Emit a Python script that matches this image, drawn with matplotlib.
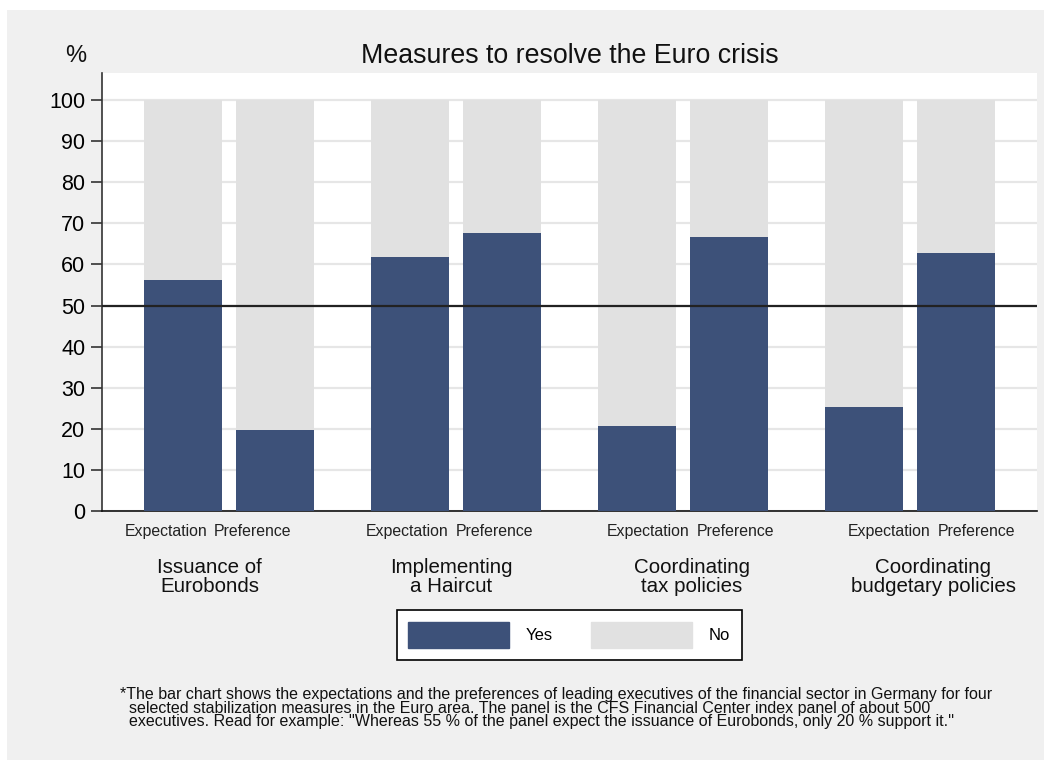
import numpy as np
import matplotlib
matplotlib.use("Agg")
import matplotlib.pyplot as plt
from matplotlib.patches import Rectangle, Patch

plt.rcParams['font.family'] = ['Liberation Sans', 'DejaVu Sans']

# data
groups = ["Issuance of\nEurobonds", "Implementing\na Haircut",
          "Coordinating\ntax policies", "Coordinating\nbudgetary policies"]
bar_labels = ["Expectation", "Preference"]
expectation_yes = [56.2, 61.7, 20.7, 25.3]
preference_yes = [19.7, 67.6, 66.7, 62.8]

navy = "#3d5179"
light = "#e1e1e1"
bg = "#f0f0f0"

fig = plt.figure(figsize=(10.51, 7.69), dpi=100)
fig.patch.set_facecolor("white")
fig.patches.append(Rectangle((7 / 1051, 1 - 760 / 769), 1037 / 1051, 750 / 769,
                             transform=fig.transFigure, facecolor=bg,
                             edgecolor="none", zorder=-5))

ax = fig.add_axes([102 / 1051, 1 - 511 / 769, 935 / 1051, 438 / 769])
ax.set_facecolor("white")

x = np.arange(len(groups))
off = 0.2026
w = 0.344
exp_yes = np.array(expectation_yes)
pref_yes = np.array(preference_yes)

ax.bar(x - off, exp_yes, w, color=navy, zorder=3)
ax.bar(x - off, 100 - exp_yes, w, bottom=exp_yes, color=light, zorder=3)
ax.bar(x + off, pref_yes, w, color=navy, zorder=3)
ax.bar(x + off, 100 - pref_yes, w, bottom=pref_yes, color=light, zorder=3)

ax.axhline(50, color="#222222", lw=1.6, zorder=4)

ax.set_xlim(-0.559, 3.559)
ax.set_ylim(0, 106.6)
ax.set_yticks(np.arange(0, 101, 10))
ax.tick_params(axis="y", labelsize=15.5, length=8, width=1.2, color="#333333", pad=4)
ax.set_xticks([])
ax.yaxis.grid(True, color="#e6e6e6", lw=1.6, zorder=0)
ax.set_axisbelow(True)
for s in ["top", "right"]:
    ax.spines[s].set_visible(False)
ax.spines["left"].set_color("#333333")
ax.spines["left"].set_linewidth(1.2)
ax.spines["bottom"].set_color("#111111")
ax.spines["bottom"].set_linewidth(1.2)

# category labels (spacing as in original)
label_pos = np.arange(len(groups)) * 1.062 - 0.084
trans = ax.get_xaxis_transform()
for p, g in zip(label_pos, groups):
    ax.text(p - 0.194, -0.046, bar_labels[0], transform=trans, ha="center",
            va="center", fontsize=11.4, color="#222222")
    ax.text(p + 0.19, -0.046, bar_labels[1], transform=trans, ha="center",
            va="center", fontsize=11.4, color="#222222")
    ax.text(p, -0.151, g, transform=trans, ha="center", va="center",
            fontsize=14.8, linespacing=1.0, color="#111111")

fig.text(569.5 / 1051, 1 - 56 / 769, "Measures to resolve the Euro crisis",
         ha="center", va="center", fontsize=19.3, color="#111111")
fig.text(76 / 1051, 1 - 56 / 769, "%", ha="center", va="center",
         fontsize=17, color="#111111")

handles = [Patch(facecolor=navy, edgecolor=navy), Patch(facecolor=light, edgecolor=light)]
leg = fig.legend(handles, ["Yes", "No"], loc="center", ncol=2,
                 bbox_to_anchor=(569 / 1051, 1 - 635 / 769), fontsize=12,
                 handlelength=6.06, handleheight=2.1, handletextpad=1.0,
                 columnspacing=2.27, borderpad=0.7, fancybox=False,
                 framealpha=1, edgecolor="black", facecolor="white")
leg.get_frame().set_linewidth(1.2)

note = ("*The bar chart shows the expectations and the preferences of leading executives of the financial sector in Germany for four\n"
        "  selected stabilization measures in the Euro area. The panel is the CFS Financial Center index panel of about 500\n"
        "  executives. Read for example: ''Whereas 55 % of the panel expect the issuance of Eurobonds, only 20 % support it.''")
fig.text(120 / 1051, 1 - 708 / 769, note, ha="left", va="center",
         fontsize=11.5, linespacing=0.87, color="#111111")

fig.savefig("out.png", dpi=100, facecolor=fig.get_facecolor())
